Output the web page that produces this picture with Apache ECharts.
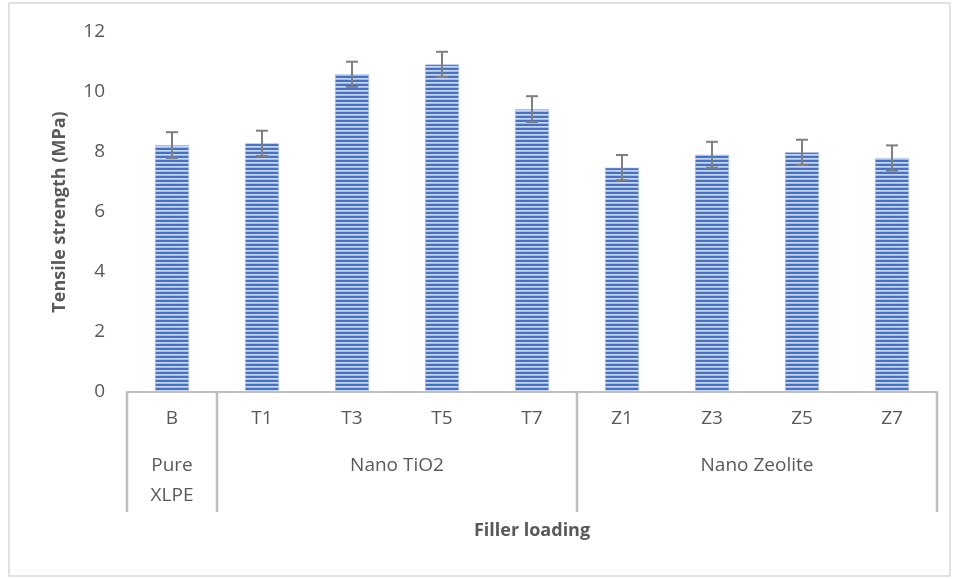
<!DOCTYPE html>
<html>
<head>
<meta charset="utf-8">
<script src="https://cdn.jsdelivr.net/npm/echarts@6/dist/echarts.min.js"></script>
<style>html,body{margin:0;padding:0;background:#fff;}#c{width:958px;height:579px;}</style>
</head>
<body>
<div id="c"></div>
<script>
const categories = ['B', 'T1', 'T3', 'T5', 'T7', 'Z1', 'Z3', 'Z5', 'Z7'];
const values = [8.23, 8.29, 10.59, 10.92, 9.43, 7.48, 7.91, 7.99, 7.80];
const errors = [0.43, 0.42, 0.42, 0.42, 0.43, 0.42, 0.43, 0.42, 0.42];
const groupNames = ['Pure\nXLPE', 'Nano TiO2', 'Nano Zeolite'];
const groupStart = [0, 1, 5];
const groupEnd = [0, 4, 8];
const yTicks = [0, 2, 4, 6, 8, 10, 12];

const FONT = 'Open Sans';
const TXT = '#595959';
const LINE = '#bfbfbf';
const FS = 19;

// striped fill pattern
const pc = document.createElement('canvas');
pc.width = 4; pc.height = 4;
const g = pc.getContext('2d');
g.fillStyle = '#4472C4'; g.fillRect(0, 0, 4, 2);
g.fillStyle = '#c9d6f1'; g.fillRect(0, 2, 4, 1);
g.fillStyle = '#a7bbe6'; g.fillRect(0, 3, 4, 1);

const chart = echarts.init(document.getElementById('c'), null, {renderer: 'canvas'});

const option = {
  animation: false,
  backgroundColor: '#fff',
  grid: {left: 127, right: 21, top: 32, bottom: 187, containLabel: false},
  xAxis: {
    type: 'category',
    data: categories,
    name: 'Filler loading',
    nameLocation: 'middle',
    nameGap: 130,
    nameTextStyle: {fontFamily: FONT, fontSize: 18, fontWeight: 'bold', color: TXT},
    axisLine: {lineStyle: {color: LINE, width: 2}},
    axisTick: {show: false},
    axisLabel: {fontFamily: FONT, fontSize: FS, color: TXT, margin: 17}
  },
  yAxis: {
    type: 'value',
    min: 0, max: 12, interval: 2,
    name: 'Tensile strength (MPa)',
    nameLocation: 'middle',
    nameGap: 58,
    nameTextStyle: {fontFamily: FONT, fontSize: 18, fontWeight: 'bold', color: TXT},
    axisLine: {show: false},
    axisTick: {show: false},
    splitLine: {show: false},
    axisLabel: {fontFamily: FONT, fontSize: FS, color: TXT, margin: 22,
      formatter: v => yTicks.includes(v) ? String(v) : ''}
  },
  series: [
    {
      type: 'bar',
      data: values,
      barWidth: 34,
      itemStyle: {color: {image: pc, repeat: 'repeat'}, borderColor: '#b4c6ea', borderWidth: 0.6}
    },
    {
      type: 'custom',
      data: values.map((v, i) => [i, v - errors[i], v + errors[i]]),
      z: 10,
      renderItem: function (params, api) {
        const lo = api.coord([api.value(0), api.value(1)]);
        const hi = api.coord([api.value(0), api.value(2)]);
        const w = 6;
        const st = {stroke: '#7f7f7f', lineWidth: 2};
        return {
          type: 'group',
          children: [
            {type: 'line', shape: {x1: hi[0], y1: hi[1], x2: lo[0], y2: lo[1]}, style: st},
            {type: 'line', shape: {x1: hi[0] - w, y1: hi[1], x2: hi[0] + w, y2: hi[1]}, style: st},
            {type: 'line', shape: {x1: lo[0] - w, y1: lo[1], x2: lo[0] + w, y2: lo[1]}, style: st}
          ]
        };
      }
    }
  ]
};
chart.setOption(option);

// multi-level category decorations, positioned via the axis scale
function buildGraphics() {
  const c0 = chart.convertToPixel({xAxisIndex: 0}, 0);
  const c1 = chart.convertToPixel({xAxisIndex: 0}, 1);
  const band = c1 - c0;
  const y0 = chart.convertToPixel({yAxisIndex: 0}, 0);
  const els = [];
  els.push({type: 'rect', shape: {x: 9, y: 3, width: 941, height: 573},
    style: {fill: 'none', stroke: '#d9d9d9', lineWidth: 1.5}, silent: true, z: -1});
  const bounds = new Set();
  for (let k = 0; k < groupNames.length; k++) {
    bounds.add(groupStart[k] - 0.5);
    bounds.add(groupEnd[k] + 0.5);
    const cx = (chart.convertToPixel({xAxisIndex: 0}, groupStart[k]) +
                chart.convertToPixel({xAxisIndex: 0}, groupEnd[k])) / 2;
    els.push({type: 'text', x: cx, y: y0 + 59,
      style: {text: groupNames[k], fill: TXT, font: FS + 'px "' + FONT + '"',
        align: 'center', verticalAlign: 'top', lineHeight: 30}});
  }
  bounds.forEach(b => {
    const x = c0 + b * band;
    els.push({type: 'line', shape: {x1: x, y1: y0, x2: x, y2: y0 + 120},
      style: {stroke: LINE, lineWidth: 2.5}});
  });
  chart.setOption({graphic: {elements: els}});
}
buildGraphics();
</script>
</body>
</html>
